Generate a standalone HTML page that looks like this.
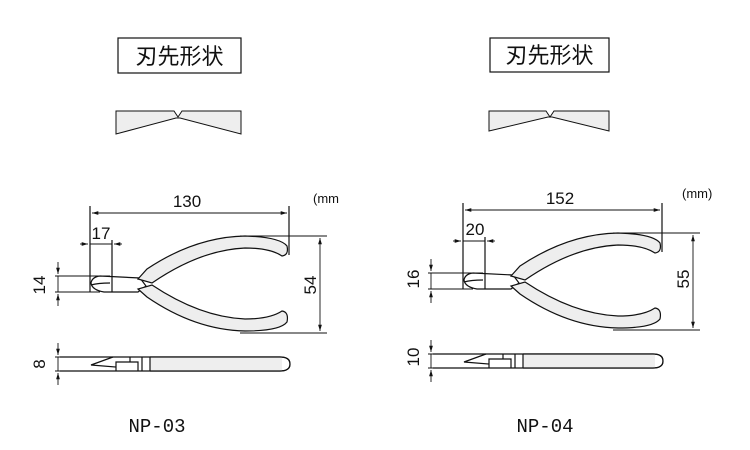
<!DOCTYPE html>
<html><head><meta charset="utf-8"><style>
body{margin:0;background:#fff;width:750px;height:450px;overflow:hidden}
svg{display:block}
text{font-family:"Liberation Sans",sans-serif;fill:#111}
</style></head><body>
<svg width="750" height="450" viewBox="0 0 750 450" xmlns="http://www.w3.org/2000/svg">
<defs>
<marker id="a" viewBox="0 0 10 10" refX="10" refY="5" markerWidth="7" markerHeight="7" orient="auto-start-reverse"><path d="M0,2 L10,5 L0,8 z" fill="#111"/></marker>
<g id="pl" stroke="#111" stroke-width="1.2" fill="none">
  <line x1="90" y1="206" x2="90" y2="292"/>
  <line x1="289" y1="206" x2="289" y2="255"/>
  <line x1="92" y1="213" x2="287" y2="213" marker-start="url(#a)" marker-end="url(#a)" stroke-width="0.9"/>
  <line x1="112" y1="240" x2="112" y2="290"/>
  <line x1="80" y1="244" x2="88" y2="244" marker-end="url(#a)" stroke-width="0.9"/>
  <line x1="90" y1="244" x2="112" y2="244" stroke-width="0.9"/>
  <line x1="122" y1="244" x2="114" y2="244" marker-end="url(#a)" stroke-width="0.9"/>
  <line x1="55" y1="276" x2="110" y2="276" stroke-width="0.9"/>
  <line x1="55" y1="292" x2="100" y2="292" stroke-width="0.9"/>
  <line x1="58" y1="262" x2="58" y2="274" marker-end="url(#a)" stroke-width="0.9"/>
  <line x1="58" y1="276" x2="58" y2="292" stroke-width="0.9"/>
  <line x1="58" y1="306" x2="58" y2="294" marker-end="url(#a)" stroke-width="0.9"/>
  <line x1="240" y1="236" x2="327" y2="236" stroke-width="0.9"/>
  <line x1="240" y1="333" x2="327" y2="333" stroke-width="0.9"/>
  <line x1="320" y1="238" x2="320" y2="331" marker-start="url(#a)" marker-end="url(#a)" stroke-width="0.9"/>
  <path d="M91,283 Q92,277 100,276 L140,278 L146,286 L138,292 L104,292 Q92,290 91,283 Z" fill="#fff"/>
  <line x1="112" y1="276" x2="112" y2="292"/>
  <path d="M91,285 Q98,283 110,283"/>
  <path d="M138,279 L147,269 Q195,237 245,236 Q280,237 287,246 Q289,255 282,256 Q270,248 245,248 Q200,250 152,283 Z" fill="#eee"/>
  <path d="M138,289 L147,297 Q195,330 245,331 Q280,331 287,322 Q289,312 282,311 Q270,319 245,319 Q200,317 152,285 Z" fill="#eee"/>
  <line x1="55" y1="357" x2="110" y2="357" stroke-width="0.9"/>
  <line x1="55" y1="371" x2="110" y2="371" stroke-width="0.9"/>
  <line x1="58" y1="343" x2="58" y2="355" marker-end="url(#a)" stroke-width="0.9"/>
  <line x1="58" y1="357" x2="58" y2="371" stroke-width="0.9"/>
  <line x1="58" y1="385" x2="58" y2="373" marker-end="url(#a)" stroke-width="0.9"/>
  <path d="M60,357 L280,357 Q290,357 290,364 Q290,371 280,371 L60,371"/>
  <rect x="150" y="357" width="132" height="14" fill="#eee" stroke="none"/>
  <path d="M150,357 L280,357 Q290,357 290,364 Q290,371 280,371 L150,371"/>
  <line x1="150" y1="357" x2="150" y2="371"/>
  <line x1="142" y1="357" x2="142" y2="371"/>
  <path d="M113,357 L91,365 L116,367 L116,371 M116,367 L116,362 L130,362 L130,357 M130,362 L138,362 L138,371"/>
</g>
</defs>

<rect x="118" y="38" width="123" height="35" fill="#fff" stroke="#111" stroke-width="1.2"/>
<text x="179.5" y="64" font-size="22" text-anchor="middle" style="font-family:'Liberation Sans','Noto Sans CJK JP',sans-serif">刃先形状</text>
<rect x="490" y="38" width="119" height="34" fill="#fff" stroke="#111" stroke-width="1.2"/>
<text x="549.5" y="63" font-size="22" text-anchor="middle" style="font-family:'Liberation Sans','Noto Sans CJK JP',sans-serif">刃先形状</text>
<path d="M116,111 L174,111 L178,117 L182,111 L241,111 L241,134 L180,118 L176,118 L116,134 Z" fill="#eee" stroke="#111" stroke-width="1"/>
<path d="M489,111 L546,111 L550,117 L554,111 L609,111 L609,131 L552,117 L548,117 L489,131 Z" fill="#eee" stroke="#111" stroke-width="1"/>

<use href="#pl"/>
<use href="#pl" transform="translate(373,-3)"/>

<g font-size="17">
<text x="187" y="207" text-anchor="middle">130</text>
<text x="101" y="239" text-anchor="middle">17</text>
<text x="313" y="203" font-size="13">(mm</text>
<text transform="translate(45,285) rotate(-90)" text-anchor="middle">14</text>
<text transform="translate(316,285) rotate(-90)" text-anchor="middle">54</text>
<text transform="translate(45,364) rotate(-90)" text-anchor="middle">8</text>
<text x="157" y="432" text-anchor="middle" font-size="19" style="font-family:'Liberation Mono',monospace">NP-03</text>

<text x="560" y="204" text-anchor="middle">152</text>
<text x="475" y="235" text-anchor="middle">20</text>
<text x="682" y="198" font-size="13">(mm)</text>
<text transform="translate(419,279) rotate(-90)" text-anchor="middle">16</text>
<text transform="translate(689,279) rotate(-90)" text-anchor="middle">55</text>
<text transform="translate(419,357) rotate(-90)" text-anchor="middle">10</text>
<text x="545" y="432" text-anchor="middle" font-size="19" style="font-family:'Liberation Mono',monospace">NP-04</text>
</g>
</svg>
</body></html>
